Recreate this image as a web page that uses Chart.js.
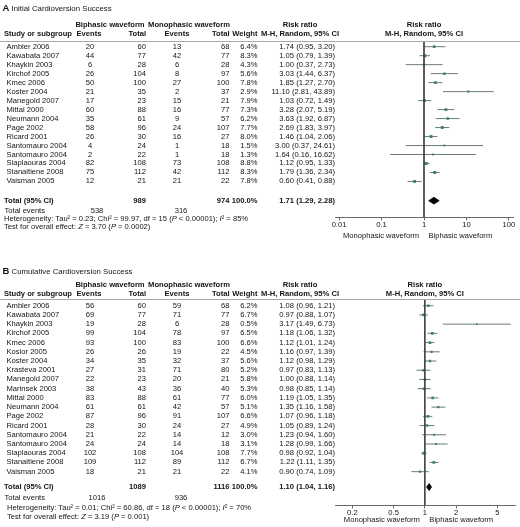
<!DOCTYPE html>
<html>
<head>
<meta charset="utf-8">
<script src="https://cdn.jsdelivr.net/npm/chart.js@4.4.1/dist/chart.umd.min.js"></script>
<style>
    body { margin: 0; background: #fff; }
    #page { position: relative; width: 520px; height: 527px; overflow: hidden;
            font-family: "Liberation Sans", Arial, sans-serif; font-size: 7.6px; color: #141414; }
    .t { position: absolute; white-space: nowrap; line-height: 1; }
    .b { font-weight: bold; }
    .rule { position: absolute; left: 0; width: 520px; height: 1.5px; background: #a9a9a9; }
    canvas { position: absolute; left: 0; }
</style>
</head>
<body>
<div id="page">
    <canvas id="chartA" width="520" height="230" style="top:0px"></canvas>
    <canvas id="chartB" width="520" height="258" style="top:260px"></canvas>
</div>
<script>
// A : 초기 전환 성공
const studiesA = ['Ambler 2006', 'Kawabata 2007', 'Khaykin 2003', 'Kirchof 2005', 'Kmec 2006', 'Koster 2004',
    'Manegold 2007', 'Mittal 2000', 'Neumann 2004', 'Page 2002', 'Ricard 2001', 'Santomauro 2004',
    'Santomauro 2004', 'Siaplaouras 2004', 'Stanaitiene 2008', 'Vaisman 2005'];
const bioEventsA = [20, 44, 6, 26, 50, 21, 17, 60, 35, 58, 26, 4, 2, 82, 75, 12];
const bioTotalA = [60, 77, 28, 104, 100, 35, 23, 88, 61, 96, 30, 24, 22, 108, 112, 21];
const monoEventsA = [13, 42, 6, 8, 27, 2, 15, 16, 9, 24, 16, 1, 1, 73, 42, 21];
const monoTotalA = [68, 77, 28, 97, 100, 37, 21, 77, 57, 107, 27, 18, 18, 108, 112, 22];
const weightA = [6.4, 8.3, 4.3, 5.6, 7.8, 2.9, 7.9, 7.3, 6.2, 7.7, 8.0, 1.5, 1.3, 8.8, 8.3, 7.8];
const rrA = [1.74, 1.05, 1.00, 3.03, 1.85, 11.10, 1.03, 3.28, 3.63, 2.69, 1.46, 3.00, 1.64, 1.12, 1.79, 0.60];
const loA = [0.95, 0.79, 0.37, 1.44, 1.27, 2.81, 0.72, 2.07, 1.92, 1.83, 1.04, 0.37, 0.16, 0.95, 1.36, 0.41];
const hiA = [3.20, 1.39, 2.73, 6.37, 2.70, 43.89, 1.49, 5.19, 6.87, 3.97, 2.06, 24.61, 16.62, 1.33, 2.34, 0.88];
const totalsA = [538, 989, 316, 974];      // 이상 사건, 이상 합계, 단상 사건, 단상 합계
const pooledA = [1.71, 1.29, 2.28];
const statsA = ['Heterogeneity: Tau² = 0.23; Chi² = 99.97, df = 15 (<i>P</i> &lt; 0.00001); <i>I</i>² = 85%',
    'Test for overall effect: <i>Z</i> = 3.70 (<i>P</i> = 0.0002)'];
const ticksA = [0.01, 0.1, 1, 10, 100];
const tickLabelsA = ['0.01', '0.1', '1', '10', '100'];

// B : 누적 전환 성공
const studiesB = ['Ambler 2006', 'Kawabata 2007', 'Khaykin 2003', 'Kirchof 2005', 'Kmec 2006', 'Kosior 2005',
    'Koster 2004', 'Krasteva 2001', 'Manegold 2007', 'Marinsek 2003', 'Mittal 2000', 'Neumann 2004', 'Page 2002',
    'Ricard 2001', 'Santomauro 2004', 'Santomauro 2004', 'Siaplaouras 2004', 'Stanaitiene 2008', 'Vaisman 2005'];
const bioEventsB = [56, 69, 19, 99, 93, 26, 34, 27, 22, 38, 83, 61, 87, 28, 21, 24, 102, 109, 18];
const bioTotalB = [60, 77, 28, 104, 100, 26, 35, 31, 23, 43, 88, 61, 96, 30, 22, 24, 108, 112, 21];
const monoEventsB = [59, 71, 6, 78, 83, 19, 32, 71, 20, 36, 61, 42, 91, 24, 14, 14, 104, 89, 21];
const monoTotalB = [68, 77, 28, 97, 100, 22, 37, 80, 21, 40, 77, 57, 107, 27, 12, 18, 108, 112, 22];
const weightB = [6.2, 6.7, 0.5, 6.5, 6.6, 4.5, 5.6, 5.2, 5.8, 5.3, 6.0, 5.1, 6.6, 4.9, 3.0, 3.1, 7.7, 6.7, 4.1];
const rrB = [1.08, 0.97, 3.17, 1.18, 1.12, 1.16, 1.12, 0.97, 1.00, 0.98, 1.19, 1.35, 1.07, 1.05, 1.23, 1.28, 0.98, 1.22, 0.90];
const loB = [0.96, 0.88, 1.49, 1.06, 1.01, 0.97, 0.98, 0.83, 0.88, 0.85, 1.05, 1.16, 0.96, 0.89, 0.94, 0.99, 0.92, 1.11, 0.74];
const hiB = [1.21, 1.07, 6.73, 1.32, 1.24, 1.39, 1.29, 1.13, 1.14, 1.14, 1.35, 1.58, 1.18, 1.24, 1.60, 1.66, 1.04, 1.35, 1.09];
const totalsB = [1016, 1089, 936, 1116];
const pooledB = [1.10, 1.04, 1.16];
const statsB = ['Heterogeneity: Tau² = 0.01; Chi² = 60.86, df = 18 (<i>P</i> &lt; 0.00001); <i>I</i>² = 70%',
    'Test for overall effect: <i>Z</i> = 3.19 (<i>P</i> = 0.001)'];
const ticksB = [0.2, 0.5, 1, 2, 5];
const tickLabelsB = ['0.2', '0.5', '1', '2', '5'];


const page = document.getElementById('page');
const col = { head: 4, name: 6.5, bioEv: 90, bioTot: 146, monoEv: 177, monoTot: 229.5, weight: 257.5, ci: 335 };

function put(html, x, y, align, bold, size) {
    const el = document.createElement('div');
    el.className = 't' + (bold ? ' b' : '');
    el.innerHTML = html;
    el.style.left = x + 'px';
    el.style.top = y + 'px';
    if (size) el.style.fontSize = size + 'px';
    const tx = align === 'right' ? '-100%' : align === 'center' ? '-50%' : '0';
    el.style.transform = `translate(${tx}, -50%)`;
    page.appendChild(el);
    return el;
}

const fmtCI = (r, l, h) => `${r.toFixed(2)} (${l.toFixed(2)}, ${h.toFixed(2)})`;

function drawPanel(p) {
    const n = p.studies.length;

    // CI 선분 (구간 사이에 null 넣어서 끊기)
    const ciData = [];
    p.rr.forEach((v, i) => {
        ciData.push({ x: p.lo[i], y: i }, { x: p.hi[i], y: i }, { x: null, y: null });
    });
    const sqData = p.rr.map((v, i) => ({ x: v, y: i }));
    const [pr, pl, ph] = p.pooled;
    const dh = 0.38;
    const diamond = [
        { x: pl, y: p.totalY }, { x: pr, y: p.totalY - dh }, { x: ph, y: p.totalY },
        { x: pr, y: p.totalY + dh }, { x: pl, y: p.totalY }
    ];

    const chart = new Chart(document.getElementById(p.canvas), {
        type: 'scatter',
        data: {
            datasets: [
                { data: [{ x: 1, y: p.yMin }, { x: 1, y: p.yMax }], showLine: true, borderColor: '#3e3e3e',
                  borderWidth: 0.9, pointRadius: 0 },
                { data: ciData, showLine: true, spanGaps: false, borderColor: '#5d6b6b', borderWidth: 0.9, pointRadius: 0 },
                { data: sqData, pointStyle: 'rect', pointRadius: p.weight.map(w => 1.1 + w * 0.12),
                  backgroundColor: '#2f8f86', borderWidth: 0 },
                { data: diamond, showLine: true, fill: 'shape', backgroundColor: '#000', borderColor: '#000',
                  borderWidth: 0.8, pointRadius: 0 }
            ]
        },
        options: {
            responsive: false,
            animation: false,
            events: [],
            layout: { padding: { left: 335, right: p.padRight, top: p.padTop, bottom: 0 } },
            plugins: { legend: { display: false }, tooltip: { enabled: false } },
            scales: {
                x: {
                    type: 'logarithmic',
                    min: p.xMin,
                    max: p.xMax,
                    afterBuildTicks: axis => { axis.ticks = p.ticks.map(v => ({ value: v })); },
                    grid: { drawOnChartArea: false, drawTicks: true, tickLength: 3, color: '#444', lineWidth: 0.8 },
                    border: { display: true, color: '#444', width: 0.8 },
                    ticks: {
                        autoSkip: false, maxRotation: 0, padding: 1, color: '#141414',
                        font: { family: '"Liberation Sans", Arial, sans-serif', size: 7.6, lineHeight: 1.0 },
                        callback: v => p.tickLabels[p.ticks.indexOf(v)]
                    }
                },
                y: { type: 'linear', display: false, reverse: true, min: p.yMin, max: p.yMax }
            }
        }
    });

    const ys = chart.scales.y;
    const xs = chart.scales.x;
    const rowY = v => p.top + ys.getPixelForValue(v);
    const x1 = xs.getPixelForValue(1);

    // 제목, 머리글
    put(`<span style="font-size:9.5px;font-weight:bold">${p.letter}</span> ${p.title}`, 2.5, p.titleY, 'left', false, 7.8);
    put('Biphasic waveform', 110, p.head1Y, 'center', true);
    put('Monophasic waveform', 189, p.head1Y, 'center', true);
    put('Risk ratio', 300, p.head1Y, 'center', true);
    put('Risk ratio', x1, p.head1Y, 'center', true);
    put('Study or subgroup', col.head, p.head2Y, 'left', true);
    put('Events', 89, p.head2Y, 'center', true);
    put('Total', col.bioTot, p.head2Y, 'right', true);
    put('Events', 177, p.head2Y, 'center', true);
    put('Total', col.monoTot, p.head2Y, 'right', true);
    put('Weight', col.weight, p.head2Y, 'right', true);
    put('M-H, Random, 95% CI', 300, p.head2Y, 'center', true);
    put('M-H, Random, 95% CI', x1, p.head2Y, 'center', true);

    const rule = document.createElement('div');
    rule.className = 'rule';
    rule.style.top = (p.top + ys.getPixelForValue(p.yMin) - 0.75) + 'px';
    page.appendChild(rule);

    // 연구별 행
    for (let i = 0; i < n; i++) {
        const y = rowY(i);
        put(p.studies[i], col.name, y, 'left');
        put(p.bioEvents[i], col.bioEv, y, 'center');
        put(p.bioTotal[i], col.bioTot, y, 'right');
        put(p.monoEvents[i], col.monoEv, y, 'center');
        put(p.monoTotal[i], col.monoTot, y, 'right');
        put(p.weight[i].toFixed(1) + '%', col.weight, y, 'right');
        put(fmtCI(p.rr[i], p.lo[i], p.hi[i]), col.ci, y, 'right');
    }

    // 합계 행
    const ty = rowY(p.totalY);
    put('Total (95% CI)', col.head, ty, 'left', true);
    put(p.totals[1], col.bioTot, ty, 'right', true);
    put(p.totals[3], col.monoTot, ty, 'right', true);
    put('100.0%', col.weight, ty, 'right', true);
    put(fmtCI(pr, pl, ph), col.ci, ty, 'right', true);

    const ey = rowY(p.eventsY);
    put('Total events', col.head + 0.5, ey, 'left');
    put(p.totals[0], 97, ey, 'center');
    put(p.totals[2], 181, ey, 'center');
    put(p.stats[0], p.statX, rowY(p.hetY), 'left');
    put(p.stats[1], p.statX, rowY(p.testY), 'left');

    // 방향 라벨
    put('Monophasic waveform', x1 - 5, p.favY, 'right');
    put('Biphasic waveform', x1 + 4.5, p.favY, 'left');
}

drawPanel({
    canvas: 'chartA', top: 0, padTop: 41.7, padRight: 7,
    letter: 'A', title: 'Initial Cardioversion Success',
    studies: studiesA, bioEvents: bioEventsA, bioTotal: bioTotalA, monoEvents: monoEventsA, monoTotal: monoTotalA,
    weight: weightA, rr: rrA, lo: loA, hi: hiA, totals: totalsA, pooled: pooledA, stats: statsA,
    ticks: ticksA, tickLabels: tickLabelsA, xMin: 0.008, xMax: 125,
    yMin: -0.556, yMax: 19.0, totalY: 17.14, eventsY: 18.26, hetY: 19.18, testY: 20.1,
    titleY: 7.5, head1Y: 25, head2Y: 34.3, favY: 236, statX: 4
});

drawPanel({
    canvas: 'chartB', top: 260, padTop: 39.3, padRight: 5,
    letter: 'B', title: 'Cumulative Cardioversion Success',
    studies: studiesB, bioEvents: bioEventsB, bioTotal: bioTotalB, monoEvents: monoEventsB, monoTotal: monoTotalB,
    weight: weightB, rr: rrB, lo: loB, hi: hiB, totals: totalsB, pooled: pooledB, stats: statsB,
    ticks: ticksB, tickLabels: tickLabelsB, xMin: 0.136, xMax: 7.4,
    yMin: -0.696, yMax: 21.66, totalY: 19.67, eventsY: 20.9, hetY: 21.96, testY: 22.9,
    titleY: 270.5, head1Y: 284.5, head2Y: 294.3, favY: 519.8, statX: 7
});
</script>
</body>
</html>
